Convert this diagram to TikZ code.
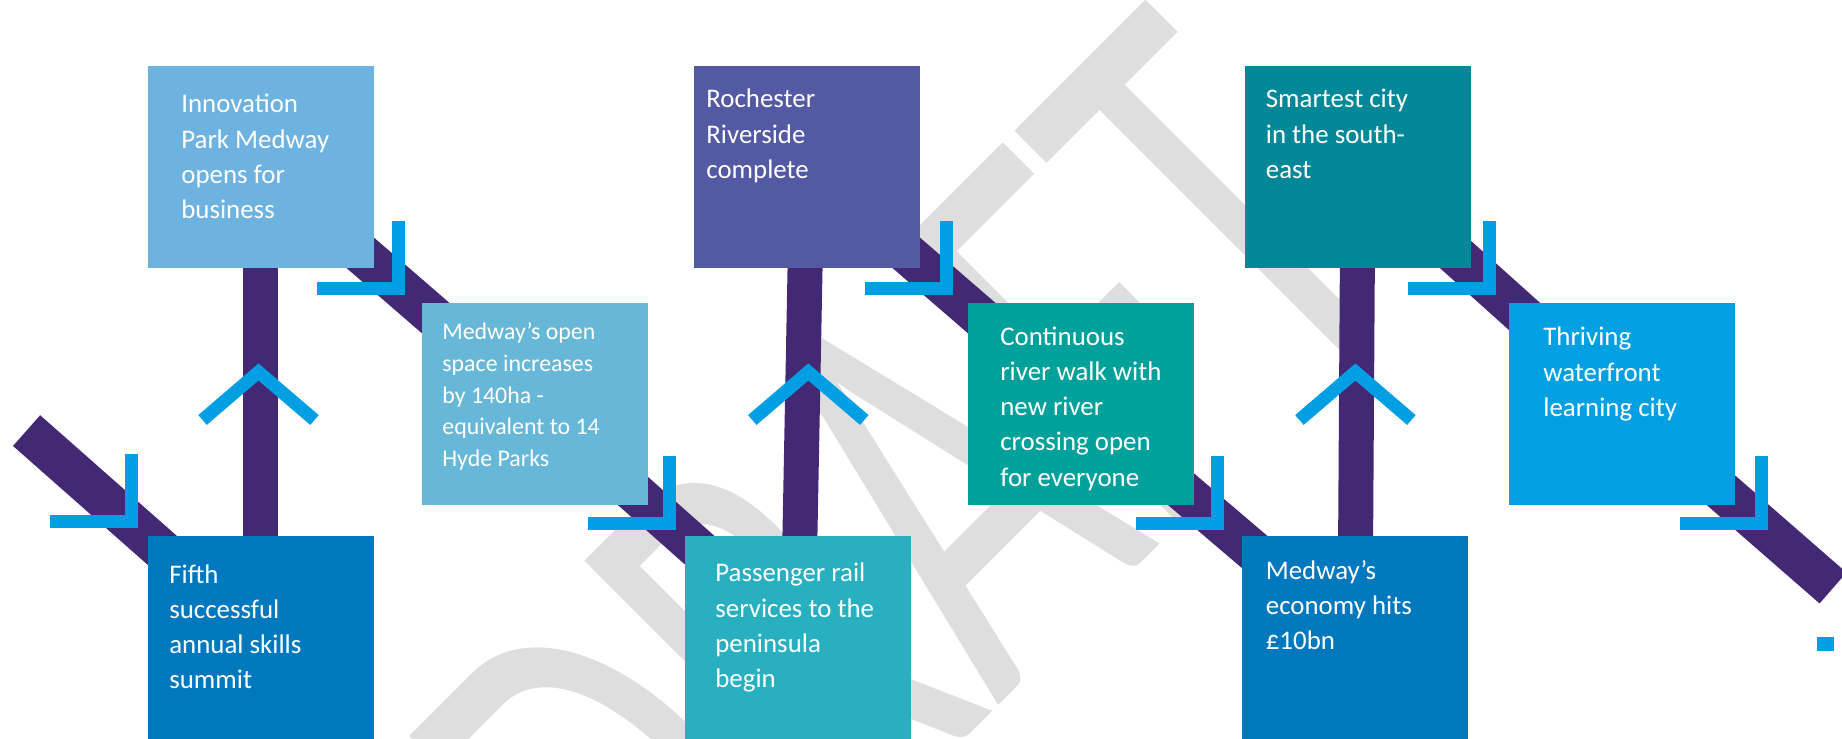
\documentclass[tikz,border=0pt]{standalone}
\usepackage{graphicx}
\usepackage{fontspec}
\setmainfont{Carlito}
\usetikzlibrary{calc,positioning,backgrounds}
\definecolor{trackpurple}{HTML}{432974}
\definecolor{markblue}{HTML}{009FE3}
\definecolor{wmgray}{HTML}{DEDEDE}
\definecolor{cInno}{HTML}{6EB2E0}
\definecolor{cFifth}{HTML}{0078BE}
\definecolor{cOpen}{HTML}{67B8D8}
\definecolor{cRoch}{HTML}{5459A3}
\definecolor{cRail}{HTML}{28B0C1}
\definecolor{cRiver}{HTML}{00A19A}
\definecolor{cSmart}{HTML}{008899}
\definecolor{cWater}{HTML}{00A0E2}
\newcommand{\boxlines}[1]{\parbox[t]{6cm}{\raggedright #1}}

\begin{document}
\begin{tikzpicture}[x=0.02cm,y=-0.02cm,
  box/.style={anchor=north west,inner sep=0,outer sep=0,minimum width=4.52cm,minimum height=4.04cm},
  lowbox/.style={box,minimum height=4.06cm},
  boxtext/.style={anchor=base west,inner sep=0,text=white,font=\fontsize{15.3}{20}\selectfont},
  track/.style={draw=trackpurple,line width=0.82cm},
  stem/.style={draw=trackpurple,line width=0.7cm},
  marker/.style={draw=markblue,line width=0.26cm}]
  \useasboundingbox (0,0) rectangle (1842,739);

  % milestones
  \node (inno) [box,fill=cInno] at (148,66) {};
  \node (fifth) [lowbox,fill=cFifth] at (148,536) {};
  \node (openspace) [box,fill=cOpen] at (422,303) {};
  \node (roch) [box,fill=cRoch] at (694,66) {};
  \node (rail) [lowbox,fill=cRail] at (685,536) {};
  \node (river) [box,fill=cRiver] at (968,303) {};
  \node (smart) [box,fill=cSmart] at (1245,66) {};
  \node (economy) [lowbox,fill=cFifth] at (1242,536) {};
  \node (water) [box,fill=cWater] at (1509,303) {};

  \node [boxtext] at ($(inno.north west)+(33,47)$)
    {\boxlines{Innovation\\Park Medway\\opens for\\business}};
  \node [boxtext] at ($(fifth.north west)+(21,47)$)
    {\boxlines{Fifth\\successful\\annual skills\\summit}};
  \node [boxtext,font=\fontsize{13.6}{18}\selectfont] at ($(openspace.north west)+(20,37)$)
    {\boxlines{Medway’s open\\space increases\\by 140ha -\\equivalent to 14\\Hyde Parks}};
  \node [boxtext] at ($(roch.north west)+(12,42)$)
    {\boxlines{Rochester\\Riverside\\complete}};
  \node [boxtext] at ($(rail.north west)+(30,46)$)
    {\boxlines{Passenger rail\\services to the\\peninsula\\begin}};
  \node [boxtext] at ($(river.north west)+(32,42.5)$)
    {\boxlines{Continuous\\river walk with\\new river\\crossing open\\for everyone}};
  \node [boxtext] at ($(smart.north west)+(20.5,42)$)
    {\boxlines{Smartest city\\in the south-\\east}};
  \node [boxtext] at ($(economy.north west)+(23.5,43)$)
    {\boxlines{Medway’s\\economy hits\\£10bn}};
  \node [boxtext] at ($(water.north west)+(34,43)$)
    {\boxlines{Thriving\\waterfront\\learning city}};

  \coordinate (start) at (26.6,430.6);
  \coordinate (finish) at (1833,588);

  \begin{scope}[on background layer]
    \node (draft) [rotate=45,anchor=base west,inner sep=0,text=wmgray,
      font=\fontsize{350}{350}\selectfont] at (669.5,1034.3) {\scalebox{0.65}[1]{DRAFT}};
    \draw[track] (start) -- (fifth.center);
    \draw[stem] (fifth.center) -- (inno.center);
    \draw[track] (inno.center) -- (openspace.center);
    \draw[track] (openspace.center) -- (rail.center);
    \draw[stem] (rail.center) -- (roch.center);
    \draw[track] (roch.center) -- (river.center);
    \draw[track] (river.center) -- (economy.center);
    \draw[stem] (economy.center) -- (smart.center);
    \draw[track] (smart.center) -- (water.center);
    \draw[track] (water.center) -- (finish);
  \end{scope}

  % direction marks
  \foreach \x/\y in {131/521.5,398.3/288.3,669.5/523.5,946.5/288.3,1217.8/523.5,1489/288.3,1761.3/523.3}
    \draw[marker] (\x-81.5,\y) -- (\x,\y) -- (\x,\y-67.5);
  \foreach \x in {258.5,808.3,1355.4}
    \draw[marker] (\x-56,420) -- (\x,372) -- (\x+56,420);
  \fill[markblue] (1817,637) rectangle (1834,651);
\end{tikzpicture}
\end{document}
